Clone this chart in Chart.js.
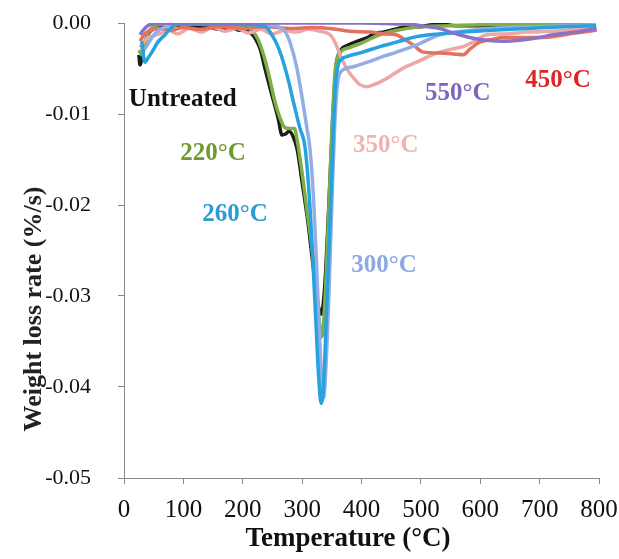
<!DOCTYPE html>
<html>
<head>
<meta charset="utf-8">
<script src="https://cdn.jsdelivr.net/npm/chart.js@4.4.1/dist/chart.umd.min.js"></script>
<style>
  html, body { margin: 0; padding: 0; background: #fff; }
  #wrap { width: 619px; height: 559px; }
</style>
</head>
<body>
<div id="wrap"><canvas id="dtg" width="619" height="559"></canvas></div>
<script>
// Axis ticks
const tempTicks = [0, 100, 200, 300, 400, 500, 600, 700, 800];
const rateTicks = [0, -0.01, -0.02, -0.03, -0.04, -0.05];

// Series: [temperature (C), weight loss rate (%/s)]
const untreated = [[25,-0.0035],[27,-0.0046],[32,-0.003],[40,-0.0013],[50,-0.0006],[60,-0.0003],[80,-0.0002],[100,-0.0003],[120,-0.0005],[140,-0.0004],[160,-0.0007],[180,-0.0005],[195,-0.0008],[205,-0.0008],[215,-0.0012],[222,-0.0018],[230,-0.003],[237,-0.0049],[243,-0.0064],[249,-0.0079],[255,-0.0093],[260,-0.0106],[266,-0.0123],[272,-0.0122],[278,-0.0119],[285,-0.0125],[292,-0.014],[300,-0.0175],[310,-0.022],[320,-0.0275],[327,-0.031],[332,-0.032],[338,-0.029],[345,-0.02],[352,-0.01],[358,-0.0045],[365,-0.003],[375,-0.0025],[385,-0.0022],[397,-0.0019],[410,-0.0016],[420,-0.0012],[436,-0.001],[450,-0.0008],[470,-0.0005],[500,-0.0004],[530,-0.0001],[560,-0.0003],[600,-0.0003],[650,-0.0002],[700,-0.0003],[750,-0.0001],[790,-0.0002]];
const t220 = [[25,-0.003],[30,-0.0035],[40,-0.0012],[50,-0.0004],[70,-0.0001],[100,-0.0001],[150,-0.0002],[200,-0.0003],[215,-0.0008],[225,-0.0017],[235,-0.0035],[245,-0.006],[254,-0.0086],[262,-0.0103],[271,-0.0115],[280,-0.0116],[287,-0.0116],[292,-0.013],[300,-0.0165],[310,-0.0215],[318,-0.0255],[326,-0.031],[333,-0.0345],[338,-0.031],[344,-0.022],[350,-0.012],[356,-0.005],[365,-0.0032],[380,-0.0027],[400,-0.0022],[430,-0.0013],[460,-0.0008],[500,-0.0004],[550,-0.0003],[600,-0.0002],[700,-0.0002],[790,-0.0001]];
const t260 = [[30,-0.002],[35,-0.0043],[41,-0.0038],[47,-0.0032],[57,-0.0021],[69,-0.0013],[80,-0.0005],[95,-0.0001],[150,-0.0001],[220,-0.0002],[240,-0.0005],[249,-0.0013],[258,-0.0024],[265,-0.0036],[271,-0.0049],[278,-0.0066],[285,-0.0086],[291,-0.0102],[296,-0.0115],[305,-0.0137],[312,-0.019],[318,-0.026],[324,-0.034],[328,-0.039],[332,-0.0418],[336,-0.04],[341,-0.032],[347,-0.022],[352,-0.013],[356,-0.007],[360,-0.0048],[366,-0.004],[375,-0.0037],[402,-0.0032],[431,-0.0026],[459,-0.0021],[493,-0.0015],[530,-0.0012],[570,-0.001],[620,-0.0008],[680,-0.0006],[740,-0.0004],[795,-0.0003]];
const t300 = [[28,-0.003],[35,-0.0028],[45,-0.0018],[55,-0.001],[70,-0.0004],[90,-0.0001],[150,0],[230,-0.0002],[260,-0.0004],[271,-0.0009],[280,-0.0022],[291,-0.0049],[301,-0.0086],[308,-0.0115],[313,-0.0137],[319,-0.019],[324,-0.026],[329,-0.034],[333,-0.039],[336,-0.0412],[340,-0.038],[345,-0.03],[350,-0.02],[355,-0.011],[360,-0.0065],[368,-0.0052],[386,-0.0048],[410,-0.0043],[431,-0.0038],[459,-0.0032],[493,-0.0024],[532,-0.0013],[570,-0.0009],[620,-0.0006],[700,-0.0004],[795,-0.0002]];
const t350 = [[27,-0.0027],[32,-0.0022],[40,-0.0016],[50,-0.0014],[60,-0.0012],[75,-0.0008],[90,-0.0012],[110,-0.0006],[130,-0.001],[150,-0.0005],[170,-0.0009],[190,-0.0006],[210,-0.0011],[230,-0.0007],[250,-0.0012],[270,-0.0008],[290,-0.001],[310,-0.0007],[330,-0.0009],[347,-0.0013],[356,-0.0022],[364,-0.0035],[375,-0.005],[386,-0.006],[398,-0.0068],[409,-0.007],[420,-0.0068],[431,-0.0065],[445,-0.006],[459,-0.0054],[475,-0.0048],[493,-0.0043],[512,-0.0037],[532,-0.0032],[550,-0.0029],[571,-0.0026],[590,-0.002],[611,-0.0013],[640,-0.0012],[680,-0.001],[720,-0.0009],[760,-0.0007],[795,-0.0005]];
const t450 = [[27,-0.002],[35,-0.0012],[45,-0.0008],[60,-0.0006],[80,-0.0008],[100,-0.0005],[130,-0.0007],[160,-0.0004],[200,-0.0006],[240,-0.0004],[280,-0.0006],[320,-0.0005],[347,-0.0006],[380,-0.0009],[414,-0.001],[440,-0.0012],[459,-0.0013],[470,-0.0017],[487,-0.0024],[504,-0.0032],[532,-0.0033],[555,-0.0034],[571,-0.0035],[582,-0.0029],[599,-0.0021],[620,-0.0018],[638,-0.0016],[680,-0.0016],[722,-0.0015],[760,-0.0011],[796,-0.0008]];
const t550 = [[27,-0.0013],[32,-0.0008],[40,-0.0003],[50,-0.0001],[100,0],[200,0],[300,0],[400,0],[460,-0.0001],[490,-0.0002],[510,-0.0004],[532,-0.0006],[550,-0.001],[571,-0.0014],[590,-0.0017],[611,-0.0019],[640,-0.002],[667,-0.0019],[700,-0.0016],[722,-0.0013],[760,-0.001],[796,-0.0006]];

// In-plot labels: text and where they sit (data coordinates)
const labelTexts = ['Untreated', '220°C', '260°C', '300°C', '350°C', '550°C', '450°C'];
const labelTemps = [99, 150, 187, 438, 441, 562, 731];
const labelRates = [-0.0084, -0.0143, -0.021, -0.0266, -0.0135, -0.0078, -0.0063];
const labelColors = ['#111111', '#6f9a2e', '#2a9bd3', '#8ea8e2', '#f0b3b3', '#8064c2', '#e02424'];

const SERIF = '"Liberation Serif", "Times New Roman", serif';

function toPoints(pairs) {
    return pairs.map(p => ({ x: p[0], y: p[1] }));
}

function makeSet(label, pairs, color) {
    return {
        label: label,
        data: toPoints(pairs),
        borderColor: color,
        borderWidth: 3.5,
        pointRadius: 0,
        fill: false,
        tension: 0.3,
        cubicInterpolationMode: 'monotone'
    };
}

// Pin the plot box: no extra room for overflowing tick labels
function noPadding(s) {
    s.paddingTop = 0;
    s.paddingBottom = 0;
    s.paddingLeft = 0;
    s.paddingRight = 0;
}

// Draw the series names inside the plot
const labelPlugin = {
    id: 'seriesLabels',
    afterDatasetsDraw(chart) {
        const ctx = chart.ctx;
        const xs = chart.scales.x;
        const ys = chart.scales.y;
        ctx.save();
        ctx.font = 'bold 25px ' + SERIF;
        ctx.textAlign = 'center';
        ctx.textBaseline = 'middle';
        labelTexts.forEach((txt, i) => {
            ctx.fillStyle = labelColors[i];
            ctx.fillText(txt, xs.getPixelForValue(labelTemps[i]), ys.getPixelForValue(labelRates[i]));
        });
        ctx.restore();
    }
};

const ctx = document.getElementById('dtg').getContext('2d');
new Chart(ctx, {
    type: 'line',
    data: {
        datasets: [
            makeSet('550°C', t550, '#8b72c6'),
            makeSet('260°C', t260, '#25a2df'),
            makeSet('300°C', t300, '#93ade6'),
            makeSet('450°C', t450, '#e4715f'),
            makeSet('350°C', t350, '#eea6a6'),
            makeSet('220°C', t220, '#7fae45'),
            makeSet('Untreated', untreated, '#1c1c1c')
        ]
    },
    options: {
        responsive: false,
        animation: false,
        layout: { padding: { top: 23, right: 20, left: 0, bottom: 0 } },
        plugins: {
            legend: { display: false },
            tooltip: { enabled: false }
        },
        scales: {
            x: {
                type: 'linear',
                min: 0,
                max: 800,
                afterBuildTicks: s => { s.ticks = tempTicks.map(v => ({ value: v })); },
                afterFit: s => { s.height = 81; noPadding(s); },
                grid: { drawOnChartArea: false, drawTicks: true, tickLength: 6, color: '#888' },
                border: { display: true, color: '#888', width: 1 },
                ticks: {
                    color: '#111',
                    padding: 11,
                    font: { family: SERIF, size: 25 },
                    callback: v => String(v)
                },
                title: {
                    display: true,
                    text: 'Temperature (°C)    ',
                    color: '#111',
                    padding: { top: 0, bottom: 4 },
                    font: { family: SERIF, size: 27, weight: 'bold' }
                }
            },
            y: {
                type: 'linear',
                min: -0.05,
                max: 0,
                afterBuildTicks: s => { s.ticks = rateTicks.map(v => ({ value: v })); },
                afterFit: s => { s.width = 124; noPadding(s); },
                grid: { drawOnChartArea: false, drawTicks: true, tickLength: 6, color: '#888' },
                border: { display: true, color: '#888', width: 1 },
                ticks: {
                    color: '#111',
                    padding: 27,
                    font: { family: SERIF, size: 22 },
                    callback: v => v.toFixed(2)
                },
                title: {
                    display: true,
                    text: 'Weight loss rate (%/s)                  ',
                    color: '#222',
                    padding: { top: 19, bottom: 0 },
                    font: { family: SERIF, size: 26, weight: 'bold' }
                }
            }
        }
    },
    plugins: [labelPlugin]
});
</script>
</body>
</html>
